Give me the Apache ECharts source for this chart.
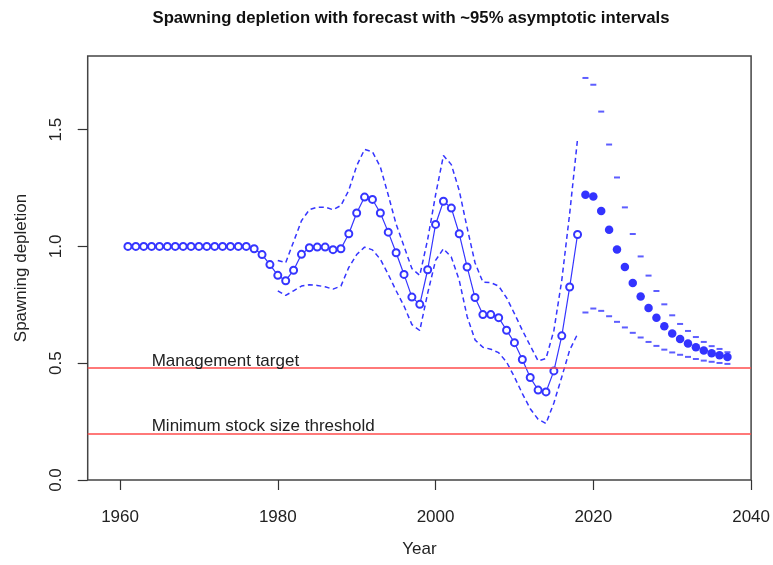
<!DOCTYPE html>
<html><head><meta charset="utf-8">
<script src="https://cdn.jsdelivr.net/npm/echarts@6/dist/echarts.min.js"></script>
<style>html,body{margin:0;padding:0;background:#fff}#c{width:773px;height:565px}</style>
</head><body><div id="c"></div>
<script>
const histYears = [1961,1962,1963,1964,1965,1966,1967,1968,1969,1970,1971,1972,1973,1974,1975,1976,1977,1978,1979,1980,
  1981,1982,1983,1984,1985,1986,1987,1988,1989,1990,1991,1992,1993,1994,1995,1996,1997,1998,1999,2000,
  2001,2002,2003,2004,2005,2006,2007,2008,2009,2010,2011,2012,2013,2014,2015,2016,2017,2018];
const histValues = [1,1,1,1,1,1,1,1,1,1,1,1,1,1,1,1,0.99,0.965,0.922,0.876,
  0.853,0.898,0.966,0.994,0.997,0.997,0.986,0.99,1.054,1.143,1.211,1.201,1.143,1.061,0.973,0.88,0.783,0.752,0.9,1.094,
  1.193,1.164,1.054,0.912,0.781,0.708,0.708,0.695,0.641,0.588,0.516,0.439,0.385,0.377,0.467,0.617,0.826,1.051];
const ciYears = [1980,1981,1982,1983,1984,1985,1986,1987,1988,1989,1990,1991,1992,1993,1994,1995,1996,1997,1998,1999,
  2000,2001,2002,2003,2004,2005,2006,2007,2008,2009,2010,2011,2012,2013,2014,2015,2016,2017,2018];
const ciUpper = [0.94,0.93,1.02,1.11,1.157,1.168,1.168,1.157,1.175,1.24,1.345,1.415,1.405,1.34,1.22,1.095,1.0,0.905,0.876,1.03,
  1.22,1.389,1.35,1.239,1.08,0.93,0.847,0.845,0.83,0.78,0.712,0.641,0.575,0.51,0.52,0.64,0.855,1.14,1.46];
const ciLower = [0.81,0.79,0.81,0.83,0.836,0.833,0.827,0.817,0.83,0.91,0.965,0.997,0.985,0.945,0.88,0.81,0.745,0.665,0.64,0.8,
  0.94,0.99,0.954,0.855,0.7,0.6,0.568,0.56,0.545,0.505,0.441,0.37,0.305,0.26,0.242,0.33,0.441,0.556,0.625];
const fcYears = [2019,2020,2021,2022,2023,2024,2025,2026,2027,2028,2029,2030,2031,2032,2033,2034,2035,2036,2037];
const fcValues = [1.221,1.214,1.151,1.071,0.987,0.912,0.843,0.786,0.736,0.695,0.658,0.627,0.604,0.584,0.568,0.554,0.543,0.534,0.527];
const fcUpper = [1.721,1.692,1.577,1.436,1.295,1.167,1.053,0.957,0.875,0.809,0.752,0.705,0.668,0.638,0.612,0.591,0.573,0.561,0.547];
const fcLower = [0.717,0.734,0.724,0.701,0.677,0.653,0.63,0.61,0.591,0.574,0.558,0.546,0.536,0.527,0.518,0.511,0.506,0.501,0.497];
const xTicks = [1960,1980,2000,2020,2040];
const yTicks = [0,0.5,1,1.5];
const refNames = ['Management target','Minimum stock size threshold'];
const refValues = [0.48,0.2];

const pair = (xs, ys) => xs.map((x, i) => [x, ys[i]]);
const FONT = '"Liberation Sans", Arial, sans-serif';
const BLUE = '#3535ff';

const chart = echarts.init(document.getElementById('c'), null, {renderer: 'canvas'});
chart.setOption({
  animation: false,
  backgroundColor: '#fff',
  title: {
    text: 'Spawning depletion with forecast with ~95% asymptotic intervals',
    left: 406, top: 5, textAlign: 'center',
    textStyle: {fontFamily: FONT, fontSize: 16.7, fontWeight: 'bold', color: '#111'}
  },
  grid: {left: 87.7, right: 21, top: 56, bottom: 85, show: true, borderColor: '#444', borderWidth: 1.5, backgroundColor: 'transparent'},
  xAxis: {
    type: 'value', min: 1955.9, max: 2040,
    name: 'Year', nameLocation: 'middle', nameGap: 61,
    nameTextStyle: {fontFamily: FONT, fontSize: 17, color: '#222'},
    axisLine: {show: false},
    axisTick: {show: true, length: 10, customValues: xTicks, lineStyle: {color: '#333', width: 1.2}},
    axisLabel: {customValues: xTicks, margin: 29, fontFamily: FONT, fontSize: 17, color: '#222', formatter: v => String(v)},
    splitLine: {show: false}
  },
  yAxis: {
    type: 'value', min: 0, max: 1.815,
    name: 'Spawning depletion', nameLocation: 'middle', nameGap: 58,
    nameTextStyle: {fontFamily: FONT, fontSize: 17, color: '#222'},
    axisLine: {show: false},
    axisTick: {show: true, length: 10, customValues: yTicks, lineStyle: {color: '#333', width: 1.2}},
    axisLabel: {customValues: yTicks, rotate: 90, margin: 23, fontFamily: FONT, fontSize: 17, color: '#222',
      formatter: v => v.toFixed(1)},
    splitLine: {show: false}
  },
  series: [
    {
      type: 'line', data: pair(ciYears, ciUpper), symbol: 'none', silent: true,
      lineStyle: {color: BLUE, width: 1.5, type: [5, 3.5]}
    },
    {
      type: 'line', data: pair(ciYears, ciLower), symbol: 'none', silent: true,
      lineStyle: {color: BLUE, width: 1.5, type: [5, 3.5]}
    },
    {
      type: 'line', data: pair(histYears, histValues), symbol: 'emptyCircle', symbolSize: 7,
      lineStyle: {color: BLUE, width: 1.2}, itemStyle: {color: BLUE, borderWidth: 1},
      markLine: {
        silent: true, symbol: 'none',
        lineStyle: {color: '#ff4d4d', width: 1.6, type: 'solid'},
        label: {show: true, position: 'insideStartTop', formatter: p => p.name, distance: [64, -2],
          fontFamily: FONT, fontSize: 17, color: '#222'},
        data: refNames.map((n, i) => ({name: n, yAxis: refValues[i]}))
      }
    },
    {
      type: 'scatter', data: pair(fcYears, fcValues), symbol: 'circle', symbolSize: 8.5,
      itemStyle: {color: '#0000ff'}
    },
    {
      type: 'scatter', data: pair(fcYears, fcUpper), symbol: 'rect', symbolSize: [6, 2],
      itemStyle: {color: BLUE}
    },
    {
      type: 'scatter', data: pair(fcYears, fcLower), symbol: 'rect', symbolSize: [6, 2],
      itemStyle: {color: BLUE}
    }
  ]
});
</script>
</body></html>
